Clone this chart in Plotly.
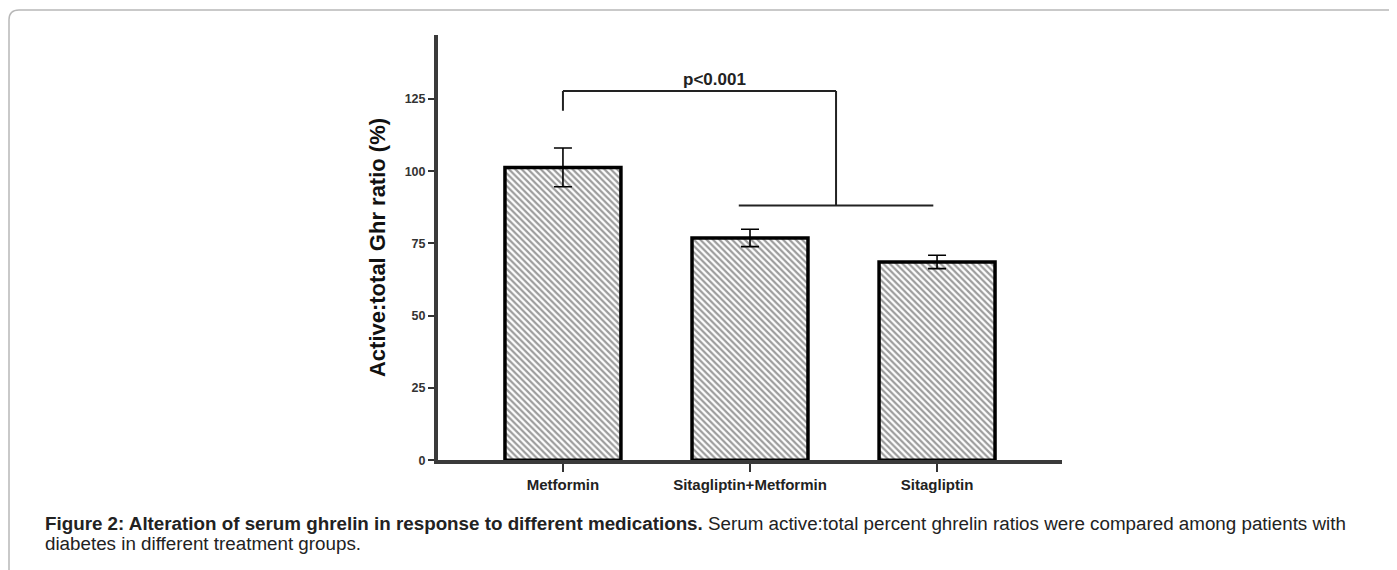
import plotly.graph_objects as go

categories = ["Metformin", "Sitagliptin+Metformin", "Sitagliptin"]
values = [101.3, 76.9, 68.6]
errors = [6.7, 3.0, 2.3]
y_ticks = [0, 25, 50, 75, 100, 125]

# significance bracket (data units)
bracket_left_x = 0
bracket_right_x = 1.46
bracket_top = 127.7
bracket_left_bottom = 120.9
bracket_right_bottom = 88.1
group_line_x = [0.94, 1.98]
p_label = "p<0.001"

OFF = 8  # page body margin
W, H = 1397 - OFF, 570 - OFF
FONT = "Liberation Sans, Arial, sans-serif"

fig = go.Figure()
fig.add_trace(go.Bar(
    x=list(range(len(categories))), y=values, width=0.62,
    marker=dict(color="white", line=dict(color="black", width=3.5),
                pattern=dict(shape="\\", size=4.5, solidity=0.5, fgcolor="#3a3a3a", bgcolor="white")),
    error_y=dict(type="data", array=errors, color="black", thickness=1.6, width=9),
    showlegend=False,
))

def px2x(p):
    return (p - OFF) / W

def py2y(p):
    return 1 - (p - OFF) / H

fig.update_layout(
    width=W, height=H, margin=dict(l=0, r=0, t=0, b=0),
    paper_bgcolor="white", plot_bgcolor="white",
    font=dict(family=FONT, color="#222"),
    xaxis=dict(domain=[px2x(438), px2x(1062)], range=[-0.668, 2.668],
               tickmode="array", tickvals=list(range(len(categories))), ticktext=categories,
               ticks="outside", ticklen=8, tickwidth=1.5, tickcolor="#333",
               showline=True, linecolor="#3a3a3a", linewidth=4, showgrid=False, zeroline=False,
               tickfont=dict(size=15, weight="bold", color="#222", family=FONT)),
    yaxis=dict(domain=[py2y(466), py2y(35)], range=[0, 147.2],
               tickmode="array", tickvals=y_ticks,
               ticks="outside", ticklen=6, tickwidth=1.5, tickcolor="#333",
               showline=True, linecolor="#3a3a3a", linewidth=4, showgrid=False, zeroline=False,
               tickfont=dict(size=12.5, weight="bold", color="#333", family=FONT),
               title=dict(text="Active:total Ghr ratio (%)", standoff=14,
                          font=dict(size=22, weight="bold", color="#111", family=FONT))),
)

line = dict(color="#222", width=2)
fig.add_shape(type="line", x0=bracket_left_x, x1=bracket_left_x, y0=bracket_left_bottom, y1=bracket_top, line=line)
fig.add_shape(type="line", x0=bracket_left_x, x1=bracket_right_x, y0=bracket_top, y1=bracket_top, line=line)
fig.add_shape(type="line", x0=bracket_right_x, x1=bracket_right_x, y0=bracket_top, y1=bracket_right_bottom, line=line)
fig.add_shape(type="line", x0=group_line_x[0], x1=group_line_x[1], y0=bracket_right_bottom, y1=bracket_right_bottom, line=line)
fig.add_annotation(x=(bracket_left_x + bracket_right_x) / 2 + 0.08, y=bracket_top, text=p_label, showarrow=False,
                   yanchor="bottom", yshift=0, font=dict(size=17, weight="bold", color="#222", family=FONT))

# outer frame with rounded top-left corner
x0 = px2x(9); y0 = py2y(10)
r_x = 10 / W; r_y = 10 / H
fig.add_shape(type="path", xref="paper", yref="paper",
              path=f"M {x0},-0.05 L {x0},{y0 - r_y} Q {x0},{y0} {x0 + r_x},{y0} L 1.05,{y0}",
              line=dict(color="#b8b8b8", width=1.5))

cap_font = dict(size=18.8, color="#222", family=FONT)
fig.add_annotation(xref="paper", yref="paper", x=px2x(43), y=py2y(530), xanchor="left", yanchor="middle",
                   showarrow=False, align="left",
                   text="<b>Figure 2: Alteration of serum ghrelin in response to different medications.</b> Serum active:total percent ghrelin ratios were compared among patients with",
                   font=cap_font)
fig.add_annotation(xref="paper", yref="paper", x=px2x(43), y=py2y(550), xanchor="left", yanchor="middle",
                   showarrow=False, align="left",
                   text="diabetes in different treatment groups.",
                   font=cap_font)

fig.write_html("out.html")
